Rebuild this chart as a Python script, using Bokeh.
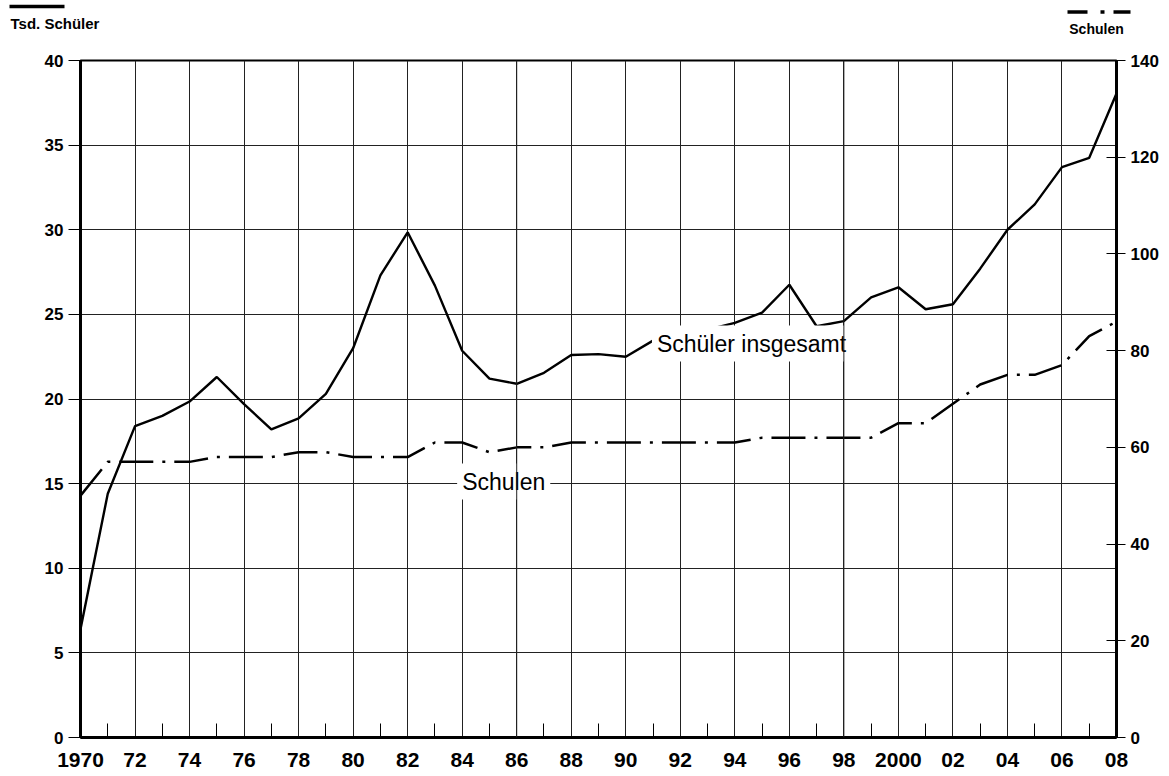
from bokeh.plotting import figure
from bokeh.models import Range1d, LinearAxis, FixedTicker, Label, Span
from bokeh.layouts import column
from bokeh.core.properties import value
from bokeh.embed import file_html
from bokeh.resources import INLINE

# ---- data ----
years = list(range(1970, 2009))
schueler_tsd = [6.4, 14.4, 18.4, 19.0, 19.85, 21.3, 19.7, 18.2, 18.85, 20.3,
                23.0, 27.3, 29.85, 26.7, 22.85, 21.2, 20.9, 21.55, 22.6, 22.65,
                22.5, 23.45, 23.8, 24.1, 24.5, 25.1, 26.75, 24.3, 24.6, 26.0,
                26.6, 25.3, 25.6, 27.7, 30.0, 31.5, 33.7, 34.25, 38.05]
schulen = [50, 57, 57, 57, 57, 58, 58, 58, 59, 59,
           58, 58, 58, 61, 61, 59, 60, 60, 61, 61,
           61, 61, 61, 61, 61, 62, 62, 62, 62, 62,
           65, 65, 69, 73, 75, 75, 77, 83, 86]
left_ticks = [0, 5, 10, 15, 20, 25, 30, 35, 40]
right_ticks = [0, 20, 40, 60, 80, 100, 120, 140]
label_years = list(range(1970, 2009, 2))
year_labels = ["1970", "72", "74", "76", "78", "80", "82", "84", "86", "88",
               "90", "92", "94", "96", "98", "2000", "02", "04", "06", "08"]
minor_years = list(range(1971, 2008, 2))

FONT = "Liberation Sans"
W = 1161
TOP_H = 52

# frame position in page pixels (for placing annotations)
FL, FR, FT, FB = 80, 1117, 60, 737
def xd(px):
    return 1970 + (px - FL) / (FR - FL) * 38
def yd(py):
    return (FB - py) / (FB - FT) * 40

# ---- header strip: axis titles / legend keys ----
h = figure(width=W, height=TOP_H, x_range=Range1d(0, W), y_range=Range1d(TOP_H, 0),
           output_backend="svg", toolbar_location=None,
           x_axis_location=None, y_axis_location=None, min_border=0)
h.frame_align = False
h.outline_line_color = None
h.grid.visible = False
h.background_fill_color = "white"
h.border_fill_color = "white"
h.segment(x0=[9, 1067, 1100, 1113], y0=[6, 11.5, 11.5, 11.5],
          x1=[64, 1087, 1104, 1130], y1=[6, 11.5, 11.5, 11.5],
          line_width=3.5, line_color="black")
h.text(x=[10], y=[23], text=["Tsd. Schüler"], text_font=value(FONT),
       text_font_size="15px", text_font_style="bold", text_baseline="middle",
       text_align="left", text_color="black")
h.text(x=[1096], y=[28], text=["Schulen"], text_font=value(FONT),
       text_font_size="14px", text_font_style="bold", text_baseline="middle",
       text_align="center", text_color="black")

# ---- main chart ----
BOTTOM = 38
p = figure(width=W, height=(FB - TOP_H) + BOTTOM, x_range=Range1d(1970, 2008),
           y_range=Range1d(0, 40), output_backend="svg", toolbar_location=None,
           min_border_left=FL, min_border_right=W - FR, min_border_top=FT - TOP_H,
           min_border_bottom=BOTTOM)
p.frame_align = False
p.background_fill_color = "white"
p.border_fill_color = "white"
p.outline_line_color = "black"
p.outline_line_width = 2

# x axis
xa = p.xaxis[0]
xa.ticker = FixedTicker(ticks=label_years, minor_ticks=minor_years)
xa.major_label_overrides = {y: s for y, s in zip(label_years, year_labels)}
xa.major_tick_in = 0
xa.major_tick_out = 0
xa.minor_tick_in = 14
xa.minor_tick_out = 0
xa.minor_tick_line_color = "black"
xa.minor_tick_line_width = 1
xa.axis_line_width = 3
xa.axis_line_color = "black"
xa.major_label_text_font = FONT
xa.major_label_text_font_style = "bold"
xa.major_label_text_font_size = "21px"
xa.major_label_text_color = "black"
xa.major_label_standoff = 15

# left y axis
ya = p.yaxis[0]
ya.ticker = FixedTicker(ticks=left_ticks)
ya.major_tick_in = 0
ya.major_tick_out = 12
ya.minor_tick_in = 0
ya.minor_tick_out = 0
ya.major_tick_line_color = "black"
ya.axis_line_width = 3
ya.axis_line_color = "black"
ya.major_label_text_font = FONT
ya.major_label_text_font_style = "bold"
ya.major_label_text_font_size = "17px"
ya.major_label_text_color = "black"
ya.major_label_standoff = 5

# right y axis
p.extra_y_ranges = {"right": Range1d(0, 140)}
ra = LinearAxis(y_range_name="right", ticker=FixedTicker(ticks=right_ticks))
ra.major_tick_in = 10
ra.major_tick_out = 9
ra.minor_tick_in = 0
ra.minor_tick_out = 0
ra.major_tick_line_color = "black"
ra.axis_line_width = 3
ra.axis_line_color = "black"
ra.major_label_text_font = FONT
ra.major_label_text_font_style = "bold"
ra.major_label_text_font_size = "17px"
ra.major_label_text_color = "black"
ra.major_label_standoff = 5
p.add_layout(ra, "right")

# grids
p.xgrid.ticker = FixedTicker(ticks=label_years)
p.ygrid.ticker = FixedTicker(ticks=left_ticks)
for g in (p.xgrid[0], p.ygrid[0]):
    g.grid_line_color = "#222222"
    g.grid_line_width = 1
    g.grid_line_alpha = 1.0

# series
p.line(years, schueler_tsd, line_width=2.4, line_color="black")
p.line(years, schulen, y_range_name="right", line_width=2.5, line_color="black",
       line_dash="34 9 3 9")

# in-chart labels with white boxes
p.add_layout(Label(x=xd(652), y=yd(343), text="Schüler insgesamt", text_font=FONT,
                   text_font_size="23px", text_baseline="middle", text_align="left",
                   text_color="black", background_fill_color="white", padding=5))
p.add_layout(Label(x=xd(457), y=yd(481), text="Schulen", text_font=FONT,
                   text_font_size="23px", text_baseline="middle", text_align="left",
                   text_color="black", background_fill_color="white", padding=5))
# grid lines that run through the label boxes in the original
for yr in (1986, 1998):
    p.add_layout(Span(location=yr, dimension="height", line_color="#222222", line_width=1))

layout = column(h, p, spacing=0)
open("out.html", "w").write(file_html(layout, INLINE))
